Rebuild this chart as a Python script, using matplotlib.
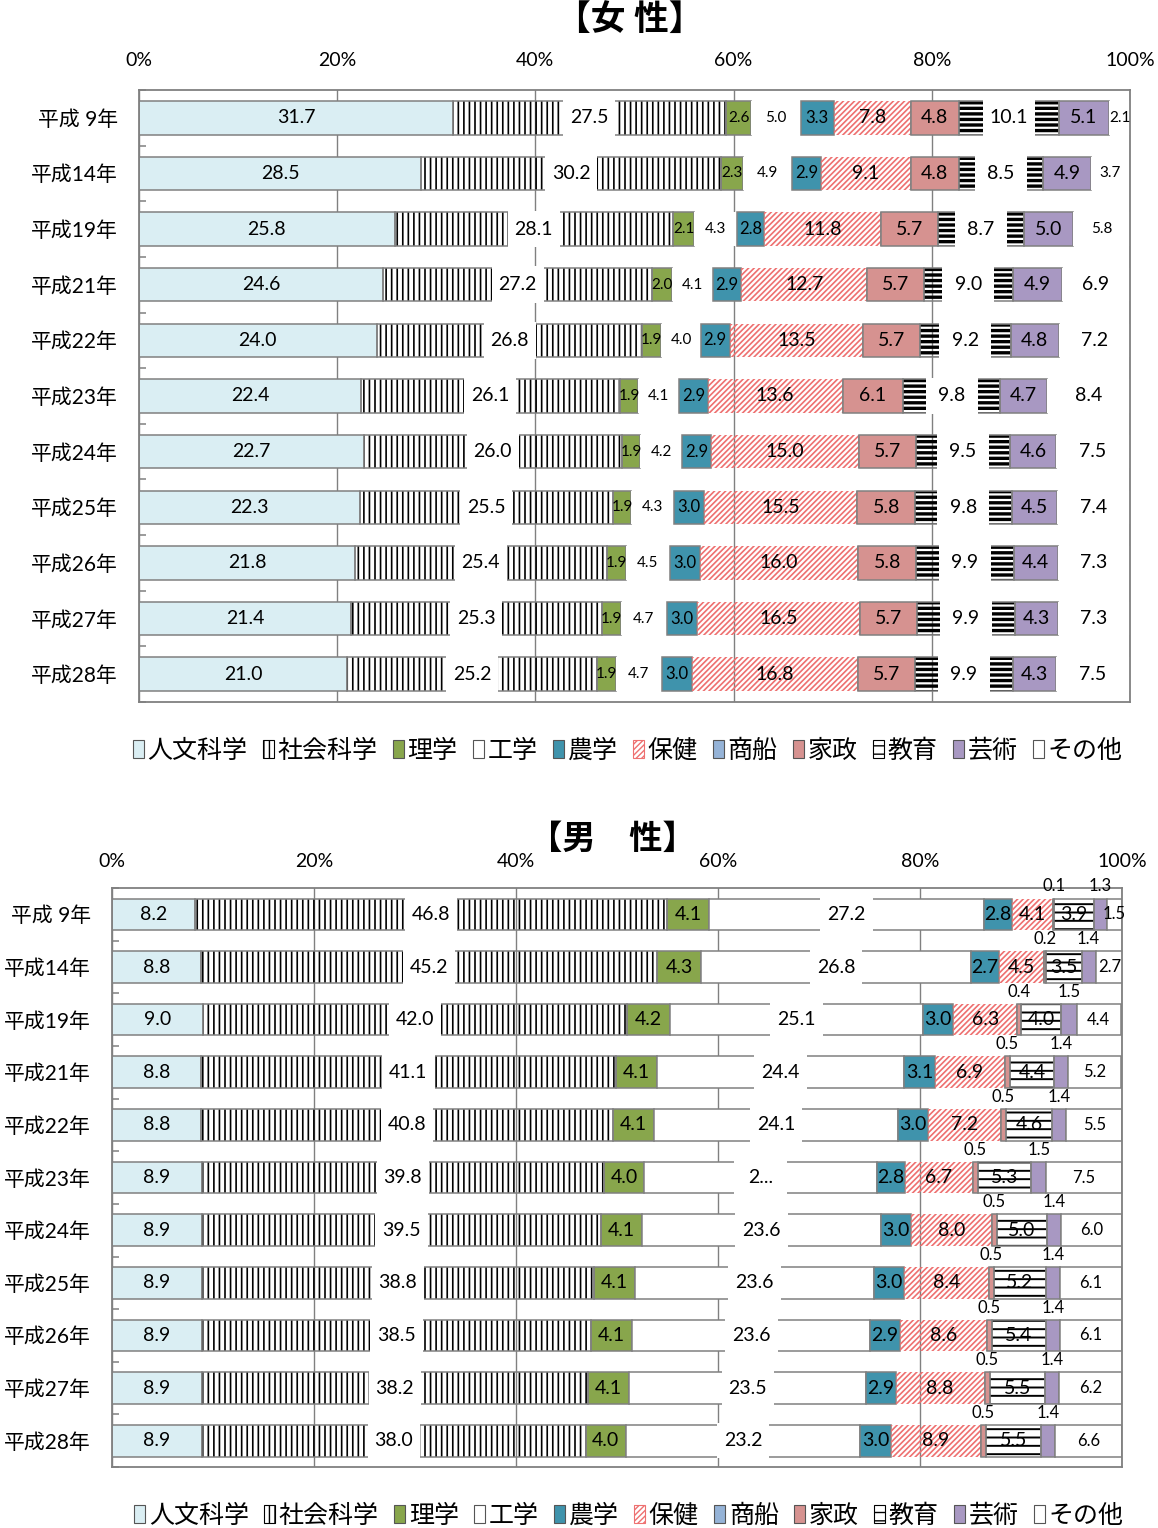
import matplotlib
matplotlib.use("Agg")
import numpy as np
import matplotlib.pyplot as plt
from matplotlib.patches import Patch, Rectangle

plt.rcParams['font.family'] = ['Lato', 'Noto Sans CJK JP', 'DejaVu Sans']

# -------------------------
# Datos (%)
# -------------------------
years = ['平成 9年', '平成14年', '平成19年', '平成21年', '平成22年', '平成23年',
         '平成24年', '平成25年', '平成26年', '平成27年', '平成28年']
categories = ['人文科学', '社会科学', '理学', '工学', '農学', '保健',
              '商船', '家政', '教育', '芸術', 'その他']

# 女性
f_jinbun = [31.7, 28.5, 25.8, 24.6, 24.0, 22.4, 22.7, 22.3, 21.8, 21.4, 21.0]
f_shakai = [27.5, 30.2, 28.1, 27.2, 26.8, 26.1, 26.0, 25.5, 25.4, 25.3, 25.2]
f_rigaku = [2.6, 2.3, 2.1, 2.0, 1.9, 1.9, 1.9, 1.9, 1.9, 1.9, 1.9]
f_kogaku = [5.0, 4.9, 4.3, 4.1, 4.0, 4.1, 4.2, 4.3, 4.5, 4.7, 4.7]
f_nogaku = [3.3, 2.9, 2.8, 2.9, 2.9, 2.9, 2.9, 3.0, 3.0, 3.0, 3.0]
f_hoken = [7.8, 9.1, 11.8, 12.7, 13.5, 13.6, 15.0, 15.5, 16.0, 16.5, 16.8]
f_shosen = [0.0, 0.0, 0.0, 0.0, 0.0, 0.0, 0.0, 0.0, 0.0, 0.0, 0.0]
f_kasei = [4.8, 4.8, 5.7, 5.7, 5.7, 6.1, 5.7, 5.8, 5.8, 5.7, 5.7]
f_kyoiku = [10.1, 8.5, 8.7, 9.0, 9.2, 9.8, 9.5, 9.8, 9.9, 9.9, 9.9]
f_geijutsu = [5.1, 4.9, 5.0, 4.9, 4.8, 4.7, 4.6, 4.5, 4.4, 4.3, 4.3]
f_sonota = [2.1, 3.7, 5.8, 6.9, 7.2, 8.4, 7.5, 7.4, 7.3, 7.3, 7.5]

# 男性
m_jinbun = [8.2, 8.8, 9.0, 8.8, 8.8, 8.9, 8.9, 8.9, 8.9, 8.9, 8.9]
m_shakai = [46.8, 45.2, 42.0, 41.1, 40.8, 39.8, 39.5, 38.8, 38.5, 38.2, 38.0]
m_rigaku = [4.1, 4.3, 4.2, 4.1, 4.1, 4.0, 4.1, 4.1, 4.1, 4.1, 4.0]
m_kogaku = [27.2, 26.8, 25.1, 24.4, 24.1, 23.0, 23.6, 23.6, 23.6, 23.5, 23.2]
m_nogaku = [2.8, 2.7, 3.0, 3.1, 3.0, 2.8, 3.0, 3.0, 2.9, 2.9, 3.0]
m_hoken = [4.1, 4.5, 6.3, 6.9, 7.2, 6.7, 8.0, 8.4, 8.6, 8.8, 8.9]
m_shosen = [0.0, 0.0, 0.0, 0.0, 0.0, 0.0, 0.0, 0.0, 0.0, 0.0, 0.0]
m_kasei = [0.1, 0.2, 0.4, 0.5, 0.5, 0.5, 0.5, 0.5, 0.5, 0.5, 0.5]
m_kyoiku = [3.9, 3.5, 4.0, 4.4, 4.6, 5.3, 5.0, 5.2, 5.4, 5.5, 5.5]
m_geijutsu = [1.3, 1.4, 1.5, 1.4, 1.4, 1.5, 1.4, 1.4, 1.4, 1.4, 1.4]
m_sonota = [1.5, 2.7, 4.4, 5.2, 5.5, 7.5, 6.0, 6.1, 6.1, 6.2, 6.6]
# etiqueta recortada en el original (平成23年)
m_kogaku_text = ['27.2', '26.8', '25.1', '24.4', '24.1', '2...',
                 '23.6', '23.6', '23.6', '23.5', '23.2']

female = [f_jinbun, f_shakai, f_rigaku, f_kogaku, f_nogaku, f_hoken,
          f_shosen, f_kasei, f_kyoiku, f_geijutsu, f_sonota]
male = [m_jinbun, m_shakai, m_rigaku, m_kogaku, m_nogaku, m_hoken,
        m_shosen, m_kasei, m_kyoiku, m_geijutsu, m_sonota]

# -------------------------
# Estilos
# -------------------------
GRAY = '#808080'
styles = {
    '人文科学': dict(fc='#DAEEF3'),
    '社会科学': dict(fc='white', hatch='|||', hc='black'),
    '理学': dict(fc='#88A64C'),
    '工学': dict(fc='white'),
    '農学': dict(fc='#3F93AC'),
    '保健': dict(fc='white', hatch='//////', hc='#EE7070'),
    '商船': dict(fc='#95B3D7'),
    '家政': dict(fc='#D69290'),
    '教育': dict(fc='white', hatch='--', hc='black'),
    '芸術': dict(fc='#A898C2'),
    'その他': dict(fc='white'),
}

BAR_H = 0.6


def set_hatch_lw(patch, lw):
    if hasattr(patch, 'set_hatch_linewidth'):
        patch.set_hatch_linewidth(lw)
    else:
        patch._hatch_linewidth = lw


def draw_panel(ax, values, label_cfg, no_edge, hatch_cfg, box_w, text_over=None):
    y = np.arange(len(years))
    left = np.zeros(len(years))
    for cat, vals in zip(categories, values):
        st = styles[cat]
        vals = np.array(vals, dtype=float)
        edge = 'none' if cat in no_edge else GRAY
        if 'hatch' in st:
            hatch, hlw = hatch_cfg.get(cat, (st['hatch'], 1.0))
            bars = ax.barh(y, vals, left=left, height=BAR_H, facecolor='none',
                           edgecolor=st['hc'], linewidth=0, hatch=hatch, zorder=2)
            for b in bars:
                set_hatch_lw(b, hlw)
            if edge != 'none':
                ax.barh(y, vals, left=left, height=BAR_H, fill=False,
                        edgecolor=edge, linewidth=1.1, zorder=2.1)
        else:
            ax.barh(y, vals, left=left, height=BAR_H, color=st['fc'],
                    edgecolor=edge, linewidth=1.1, zorder=2)

        cfg = label_cfg.get(cat)
        if cfg is not None:
            for i, v in enumerate(vals):
                if v <= 0:
                    continue
                xc = left[i] + v / 2
                txt = f'{v:.1f}'
                if text_over is not None and cat in text_over:
                    txt = text_over[cat][i]
                size = cfg['size'](v) if callable(cfg['size']) else cfg['size']
                yc = y[i] - 0.53 if cfg.get('above') else y[i]
                if cfg.get('box'):
                    ax.add_patch(Rectangle((xc - box_w / 2, y[i] - BAR_H / 2 - 0.03),
                                           box_w, BAR_H + 0.06, facecolor='white',
                                           edgecolor='none', zorder=3))
                ax.text(xc, yc, txt, ha='center', va='center', fontsize=size,
                        zorder=4, clip_on=False)
        left += vals

    ax.set_xlim(0, 100)
    ax.set_ylim(len(years) - 0.5, -0.5)
    ax.set_xticks([0, 20, 40, 60, 80, 100])
    ax.set_xticklabels(['0%', '20%', '40%', '60%', '80%', '100%'])
    ax.xaxis.tick_top()
    ax.set_yticks(y)
    ax.set_yticklabels(years)
    ax.set_yticks(np.arange(len(years) + 1) - 0.5, minor=True)
    ax.tick_params(axis='x', length=0, labelsize=14)
    ax.tick_params(axis='y', which='major', length=0, labelsize=15, pad=15)
    ax.tick_params(axis='y', which='minor', direction='in', length=5,
                   width=1.1, color=GRAY)
    ax.grid(axis='x', color=GRAY, linewidth=1.0)
    ax.set_axisbelow(True)
    for s in ax.spines.values():
        s.set_color(GRAY)
        s.set_linewidth(1.3)


def legend_handles():
    hs = []
    for cat in categories:
        st = styles[cat]
        if 'hatch' in st:
            p = Patch(facecolor='white', edgecolor=st['hc'], hatch=st['hatch'],
                      linewidth=0.8, label=cat)
        else:
            p = Patch(facecolor=st['fc'], edgecolor='#555555', linewidth=0.8, label=cat)
        hs.append(p)
    return hs


fig = plt.figure(figsize=(11.58, 15.28), dpi=100)

# -------------------------
# 女性
# -------------------------
ax1 = fig.add_axes([0.1200, 0.5406, 0.8558, 0.4005])
f_cfg = {
    '人文科学': dict(size=14), '社会科学': dict(size=14, box=True),
    '理学': dict(size=11), '工学': dict(size=11), '農学': dict(size=12),
    '保健': dict(size=14), '家政': dict(size=14), '教育': dict(size=14, box=True),
    '芸術': dict(size=14), 'その他': dict(size=lambda v: 14 if v >= 6 else 11),
}
draw_panel(ax1, female, f_cfg, no_edge={'工学', 'その他', '保健'},
           hatch_cfg={'社会科学': ('|||', 1.2), '保健': ('//////', 1.2),
                      '教育': ('---', 2.4)}, box_w=5.25)
ax1.tick_params(axis='x', pad=15)
fig.text(0.544, 0.987, '【女 性】', ha='center', va='center', fontsize=25,
         fontweight='bold')
fig.legend(handles=legend_handles(), loc='center', bbox_to_anchor=(0.542, 0.5092),
           ncol=11, frameon=False, fontsize=18, handlelength=0.45, handleheight=0.7,
           handletextpad=0.15, columnspacing=0.6, borderpad=0)

# -------------------------
# 男性
# -------------------------
ax2 = fig.add_axes([0.0967, 0.0399, 0.8722, 0.3789])
m_cfg = {
    '人文科学': dict(size=14), '社会科学': dict(size=14, box=True),
    '理学': dict(size=14), '工学': dict(size=14, box=True), '農学': dict(size=14),
    '保健': dict(size=14), '家政': dict(size=12, above=True), '教育': dict(size=14),
    '芸術': dict(size=12, above=True), 'その他': dict(size=12),
}
draw_panel(ax2, male, m_cfg, no_edge={'保健'},
           hatch_cfg={'社会科学': ('|||', 1.2), '保健': ('//////', 1.2),
                      '教育': ('--', 1.4)}, box_w=5.2,
           text_over={'工学': m_kogaku_text})
ax2.tick_params(axis='x', pad=13)
fig.text(0.529, 0.4515, '【男　性】', ha='center', va='center', fontsize=24,
         fontweight='bold')
fig.legend(handles=legend_handles(), loc='center', bbox_to_anchor=(0.543, 0.0085),
           ncol=11, frameon=False, fontsize=18, handlelength=0.45, handleheight=0.7,
           handletextpad=0.15, columnspacing=0.6, borderpad=0)

fig.savefig('out.png', dpi=100)
